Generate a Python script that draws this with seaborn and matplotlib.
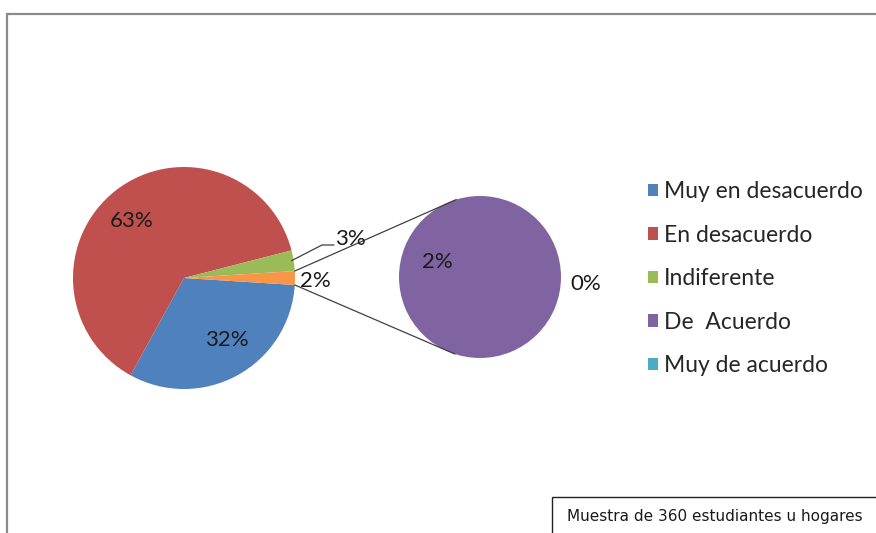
import numpy as np
import seaborn as sns
import matplotlib.pyplot as plt
from matplotlib.patches import Rectangle, Patch

# data (percent of 360 respuestas)
main_labels = ['Muy en desacuerdo', 'En desacuerdo', 'Indiferente', 'Otro']
main_values = [32, 63, 3, 2]
sub_labels = ['De  Acuerdo', 'Muy de acuerdo']
sub_values = [2, 0]
legend_labels = ['Muy en desacuerdo', 'En desacuerdo', 'Indiferente', 'De  Acuerdo', 'Muy de acuerdo']
note = 'Muestra de 360 estudiantes u hogares'

main_colors = ['#4F81BD', '#C0504D', '#9BBB59', '#F79646']
sub_colors = ['#8064A2', '#4BACC6']

sns.set_theme(style='white')
plt.rcParams['font.family'] = ['Lato', 'DejaVu Sans']

W, H = 876, 533
fig = plt.figure(figsize=(W / 100, H / 100), dpi=100)
ax = fig.add_axes([0, 0, 1, 1])

# main pie, "Otro" slice centred on 3 o'clock
c1, r1 = (184, H - 278), 111
other_deg = main_values[-1] / sum(main_values) * 360
w1, _ = ax.pie(main_values, colors=main_colors, center=c1, radius=r1,
               startangle=-other_deg / 2, counterclock=False,
               wedgeprops=dict(linewidth=0), frame=True)

# secondary pie
c2, r2 = (480, H - 277), 81
w2, _ = ax.pie(sub_values, colors=sub_colors, center=c2, radius=r2,
               startangle=-4, counterclock=True,
               wedgeprops=dict(linewidth=0), frame=True)

ax.set_xlim(0, W)
ax.set_ylim(0, H)
ax.set_aspect('equal')
ax.axis('off')


def pt(c, r, ang):
    a = np.deg2rad(ang)
    return c[0] + r * np.cos(a), c[1] + r * np.sin(a)


# connector lines
ow = w1[3]
for a1, a2 in [(ow.theta2, 107), (ow.theta1, -108)]:
    x1, y1 = pt(c1, r1, a1)
    x2, y2 = pt(c2, r2, a2)
    ax.plot([x1, x2], [y1, y2], color='#404040', lw=0.9)

# data labels
fs = 16
tc = '#1a1a1a'
for i, ang_off, dist in [(0, 6, 0.68), (1, 5, 0.7)]:
    w = w1[i]
    mid = (w.theta1 + w.theta2) / 2 + ang_off
    x, y = pt(c1, r1 * dist, mid)
    ax.text(x, y, f'{main_values[i]}%', ha='center', va='center', fontsize=fs, color=tc)

g = w1[2]
gx, gy = pt(c1, r1, (g.theta1 + g.theta2) / 2)
ax.plot([gx - 2, 322, 334], [gy, H - 245, H - 245], color='#404040', lw=0.9)
ax.text(335, H - 239, f'{main_values[2]}%', ha='left', va='center', fontsize=fs, color=tc)
ax.text(300, H - 281, f'{main_values[3]}%', ha='left', va='center', fontsize=fs, color=tc)

ax.text(437, H - 262, f'{sub_values[0]}%', ha='center', va='center', fontsize=fs, color=tc)
ax.text(570, H - 284, f'{sub_values[1]}%', ha='left', va='center', fontsize=fs, color=tc)

# legend
handles = [Patch(facecolor=c, edgecolor='none') for c in main_colors[:3] + sub_colors]
fig.legend(handles, legend_labels, loc='upper left', bbox_to_anchor=(639 / W, 1 - 172 / H),
           frameon=False, fontsize=16.5, handlelength=0.45, handleheight=0.45,
           handletextpad=0.22, labelspacing=0.98, borderaxespad=0)

# outer chart frame
fig.patches.append(Rectangle((7 / W, -0.05), 1.1, 1 - 14 / H + 0.05, transform=fig.transFigure,
                             fill=False, edgecolor='#8a8a8a', lw=1.6))

# note box
fig.patches.append(Rectangle((552 / W, -0.05), 0.5, (H - 497) / H + 0.05, transform=fig.transFigure,
                             facecolor='white', edgecolor='#222222', lw=1.0))
fig.text(567 / W, 1 - 517 / H, note, fontsize=11, va='center', ha='left', color=tc,
         family='DejaVu Sans')

plt.savefig('out.png', dpi=100)
